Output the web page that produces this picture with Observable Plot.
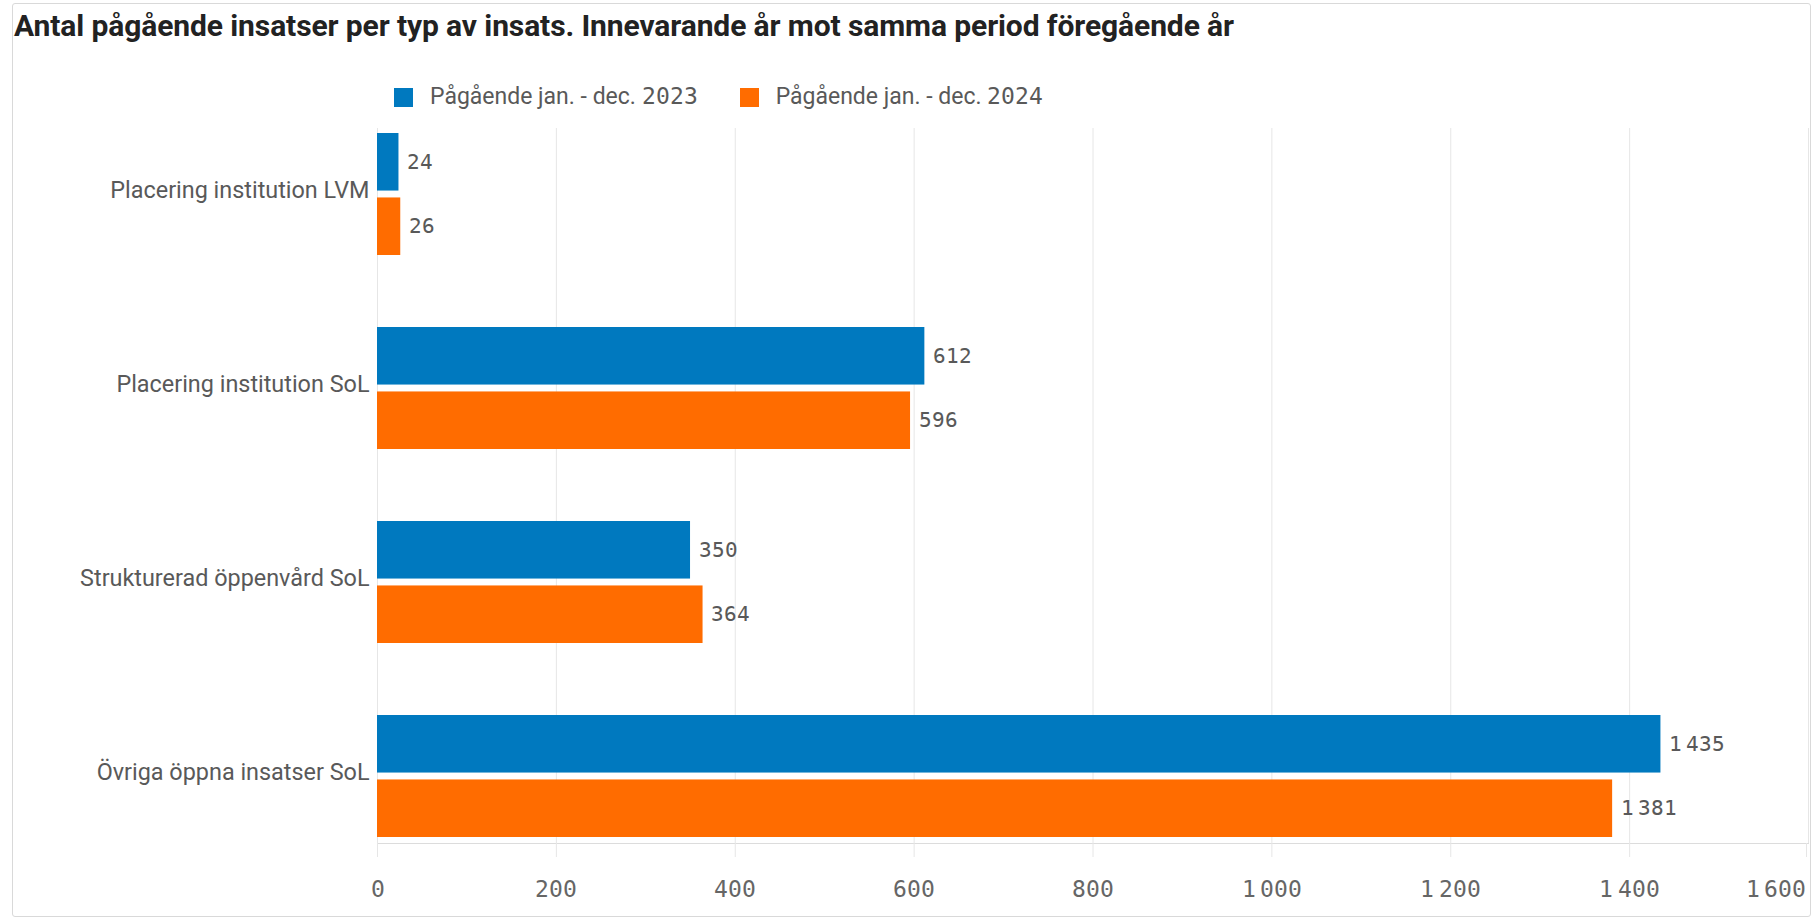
<!DOCTYPE html>
<html>
<head>
<meta charset="utf-8">
<script src="https://cdn.jsdelivr.net/npm/d3@7"></script>
<script src="https://cdn.jsdelivr.net/npm/@observablehq/plot@0.6"></script>
<style>
  @font-face { font-family: "NumMono"; src: local("DejaVu Sans Mono"), local("DejaVuSansMono"); unicode-range: U+0030-0039; }
  html, body { margin: 0; padding: 0; background: #fff; }
  body { width: 1816px; height: 920px; position: relative; overflow: hidden; font-family: Roboto, sans-serif; }
  #frame { position: absolute; left: 12px; top: 3px; width: 1799px; height: 914px; border: 1px solid #d9d9d9; border-radius: 3px; box-sizing: border-box; }
  #title { position: absolute; left: 14px; top: 11px; font: bold 30px/29px Roboto, sans-serif; color: #222; white-space: nowrap; letter-spacing: -0.1px; }
  #legend { position: absolute; left: 394px; top: 85px; height: 24px; display: flex; align-items: center; font: 23px/24px "NumMono", Roboto, sans-serif; color: #595959; white-space: nowrap; }
  #legend .item { display: flex; align-items: center; margin-right: 42px; }
  #legend .sw { width: 19px; height: 19px; margin-right: 17px; }
  #chart { position: absolute; left: 0; top: 113px; }
</style>
</head>
<body>
<div id="frame"></div>
<div id="title">Antal pågående insatser per typ av insats. Innevarande år mot samma period föregående år</div>
<div id="legend"></div>
<div id="chart"></div>
<script>
const categories = [
  "Placering institution LVM",
  "Placering institution SoL",
  "Strukturerad öppenvård SoL",
  "Övriga öppna insatser SoL"
];
const series = ["Pågående jan. - dec. 2023", "Pågående jan. - dec. 2024"];
const values2023 = [24, 612, 350, 1435];
const values2024 = [26, 596, 364, 1381];
const xTicks = [0, 200, 400, 600, 800, 1000, 1200, 1400, 1600];
const colors = ["#0079bf", "#ff6c00"];

// legend
const legend = document.getElementById("legend");
series.forEach((s, i) => {
  const item = document.createElement("div");
  item.className = "item";
  const sw = document.createElement("div");
  sw.className = "sw";
  sw.style.background = colors[i];
  const t = document.createElement("span");
  t.textContent = s;
  item.appendChild(sw);
  item.appendChild(t);
  legend.appendChild(item);
});

const fmt = d3.formatLocale({decimal: ",", thousands: "\u2009", grouping: [3], currency: ["", " kr"]}).format(",d");

const width = 1816, height = 805;
const marginTop = 15, marginBottom = 75, marginLeft = 377, marginRight = 8;
const pInner = 0.369, pOuter = 0.02, barGap = 6;
const plotH = height - marginTop - marginBottom;
const step = plotH / (categories.length - pInner + 2 * pOuter);
const bw = step * (1 - pInner);
const inset = (bw + barGap) / 2;

const d2023 = categories.map((c, i) => ({cat: c, s: series[0], v: values2023[i]}));
const d2024 = categories.map((c, i) => ({cat: c, s: series[1], v: values2024[i]}));

const monoFont = "'NumMono', Roboto, sans-serif";

const plot = Plot.plot({
  width, height, marginTop, marginBottom, marginLeft, marginRight,
  style: {fontFamily: "Roboto, sans-serif", background: "transparent", overflow: "visible"},
  x: {domain: [0, 1600], label: null},
  y: {domain: categories, paddingInner: pInner, paddingOuter: pOuter, label: null},
  color: {domain: series, range: colors},
  marks: [
    Plot.gridX(xTicks, {stroke: "#e6e6e6", strokeOpacity: 1}),
    Plot.frame({anchor: "bottom", stroke: "#dcdcdc"}),
    Plot.barX(d2023, {x: "v", y: "cat", fill: "s", insetBottom: inset}),
    Plot.barX(d2024, {x: "v", y: "cat", fill: "s", insetTop: inset}),
    Plot.text(d2023, {x: "v", y: "cat", text: d => fmt(d.v), dx: 8, dy: -inset / 2, textAnchor: "start", fill: "#595959", fontSize: 21, fontFamily: monoFont}),
    Plot.text(d2024, {x: "v", y: "cat", text: d => fmt(d.v), dx: 8, dy: inset / 2, textAnchor: "start", fill: "#595959", fontSize: 21, fontFamily: monoFont}),
    Plot.axisY({tickSize: 0, tickPadding: 8, fontSize: 23.4, fill: "#595959", textAnchor: "end", dy: -4}),
    Plot.axisX(xTicks.slice(0, -1), {tickSize: 14, tickPadding: 23, stroke: "#e6e6e6", fill: "#666", fontSize: 23, fontFamily: monoFont, tickFormat: fmt}),
    Plot.axisX(xTicks.slice(-1), {tickSize: 14, tickPadding: 23, stroke: "#e6e6e6", fill: "#666", fontSize: 23, fontFamily: monoFont, tickFormat: fmt, textAnchor: "end", dx: -2})
  ]
});
document.getElementById("chart").appendChild(plot);
</script>
</body>
</html>
